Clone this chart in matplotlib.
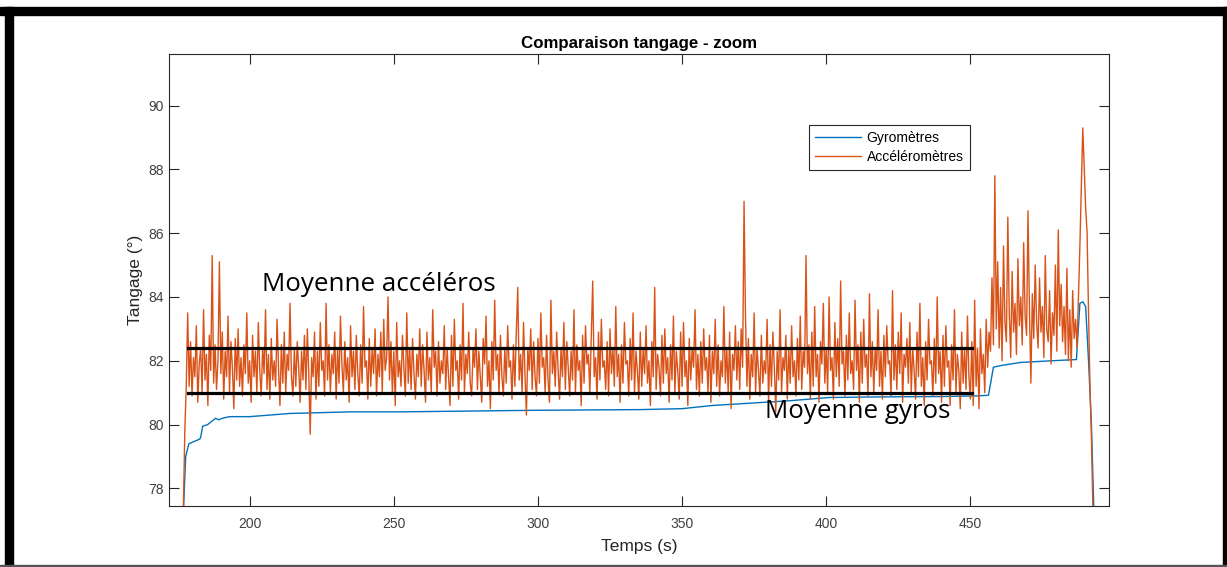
import matplotlib
matplotlib.use("Agg")
import matplotlib.pyplot as plt
from matplotlib.patches import Rectangle
import numpy as np

# gyro pitch (time s, degrees)
gyro_t = [177.1, 177.8, 178.9, 180.2, 182.7, 183.0, 183.7, 185.4, 186.8, 188.2, 189.2,
          190.6, 193.0, 200.0, 207.0, 214.0, 235.0, 252.0, 300.0, 335.0, 350.0, 360.5,
          375.0, 387.5, 401.0, 420.0, 440.0, 452.0, 456.3, 458.0, 460.5, 467.5, 478.0,
          486.8, 488.0, 489.0, 490.0, 491.0, 492.0, 492.8]
gyro_v = [77.45, 79.0, 79.4, 79.45, 79.55, 79.6, 79.95, 80.0, 80.1, 80.2, 80.15,
          80.2, 80.25, 80.25, 80.3, 80.35, 80.4, 80.4, 80.45, 80.47, 80.5, 80.6,
          80.68, 80.75, 80.85, 80.87, 80.88, 80.9, 80.92, 81.8, 81.85, 81.95, 82.0,
          82.04, 83.8, 83.85, 83.7, 82.0, 80.0, 77.45]

# accelerometer pitch, one value every 0.5 s starting at t = 177 s
ACCEL_T0 = 177.0
ACCEL_DT = 0.5
accel_v = [
    77.4, 79.8, 81.2, 83.5,
    81.2, 82.6, 80.9, 82.1, 81.5, 83.1, 80.7, 81.9, 82.4, 81.0, 83.6, 81.4, 82.2, 80.6, 82.8, 81.7, 85.3, 81.3, 82.5, 81.1,
    82.0, 85.1, 81.6, 82.9, 80.8, 82.3, 81.5, 83.4, 81.0, 82.6, 81.8, 80.5, 82.7, 81.4, 83.0, 81.2, 82.1, 80.9, 82.5, 81.6,
    83.5, 81.3, 82.0, 80.7, 82.8, 81.5, 82.3, 81.0, 83.2, 81.7, 80.9, 82.4, 81.6, 83.6, 81.1, 82.2, 80.8, 82.7, 81.4, 82.0,
    81.2, 83.3, 81.8, 80.6, 82.5, 81.3, 82.9, 81.0, 82.2, 81.7, 83.8, 81.5, 80.9, 82.4, 81.2, 82.6, 81.8, 80.7, 82.3, 81.4,
    82.8, 81.1, 83.0, 81.6, 79.7, 82.1, 81.5, 82.9, 80.8, 82.3, 81.2, 83.2, 81.7, 82.0, 80.9, 83.8, 81.4, 82.5, 81.0, 82.2,
    81.6, 82.9, 80.8, 82.4, 81.3, 83.4, 81.9, 81.0, 82.6, 81.4, 82.1, 80.7, 83.1, 81.5, 82.3, 81.1, 82.8, 81.6, 80.9, 82.5,
    81.3, 83.7, 81.8, 82.0, 80.8, 82.7, 81.2, 82.4, 81.6, 83.0, 80.9, 82.2, 81.5, 82.9, 81.0, 83.3, 81.7, 82.1, 84.0, 81.4,
    82.6, 81.0, 82.3, 80.6, 83.2, 81.5, 82.0, 81.2, 82.8, 81.8, 80.9, 83.5, 81.3, 82.4, 81.1, 82.7, 81.6, 80.8, 82.2, 81.5,
    83.0, 81.2, 82.5, 81.7, 80.7, 82.9, 81.4, 82.1, 81.0, 83.6, 81.8, 82.3, 80.9, 82.6, 81.3, 82.0, 81.6, 83.1, 81.1, 82.4,
    81.5, 80.6, 82.8, 81.2, 83.3, 81.7, 82.0, 80.8, 82.5, 81.4, 83.8, 81.0, 82.2, 81.6, 82.9, 81.3, 80.9, 82.4, 81.8, 83.0,
    81.1, 82.3, 81.5, 80.7, 82.7, 81.9, 83.4, 81.2, 82.0, 80.5, 82.6, 81.4, 83.9, 81.7, 82.2, 81.0, 82.8, 81.5, 80.9, 82.4,
    81.3, 83.1, 81.8, 82.0, 80.8, 82.5, 81.2, 82.9, 84.3, 81.4, 82.2, 81.0, 83.2, 81.6, 80.3, 82.4, 81.7, 83.0, 81.1, 82.6,
    81.5, 80.9, 82.7, 81.3, 83.5, 81.8, 82.1, 81.0, 82.8, 81.4, 80.7, 83.9, 81.6, 82.3, 81.2, 82.9, 81.7, 80.8, 82.4, 81.5,
    83.2, 81.1, 82.6, 81.8, 80.9, 82.3, 81.4, 83.6, 81.0, 82.5, 81.7, 82.0, 80.6, 82.8, 81.3, 83.1, 81.9, 82.2, 81.0, 82.7,
    84.5, 81.5, 82.1, 80.8, 82.9, 81.4, 83.3, 81.8, 82.0, 81.1, 82.6, 80.9, 83.0, 81.6, 82.4, 81.2, 83.7, 81.5, 82.2, 80.7,
    82.5, 81.3, 83.2, 81.9, 82.0, 80.9, 82.7, 81.4, 83.5, 81.0, 82.3, 81.7, 80.8, 82.9, 81.2, 82.4, 81.6, 83.1, 81.3, 82.0,
    80.6, 82.6, 81.5, 84.3, 81.1, 82.2, 81.8, 80.9, 82.8, 81.3, 83.0, 81.6, 82.1, 80.7, 82.5, 81.4, 83.4, 81.0, 82.3, 81.7,
    80.8, 82.9, 81.2, 83.2, 81.5, 82.0, 80.6, 82.7, 81.4, 82.4, 81.8, 83.6, 81.1, 82.2, 80.9, 82.6, 81.3, 83.0, 81.7, 82.1,
    81.0, 82.8, 80.7, 82.3, 81.6, 83.3, 81.2, 82.5, 80.9, 82.0, 81.5, 83.7, 81.3, 82.4, 81.0, 82.9, 80.5, 82.2, 81.7, 83.1,
    81.4, 82.6, 81.1, 83.0, 81.8, 87.0, 83.4, 81.2, 82.7, 80.8, 82.2, 81.5, 83.5, 81.0, 82.4, 81.7, 80.9, 82.8, 81.3, 82.0,
    81.6, 83.3, 80.7, 82.5, 81.2, 82.9, 81.8, 80.4, 82.3, 81.4, 83.6, 81.0, 82.1, 81.7, 82.8, 80.8, 82.4, 81.3, 83.1, 81.5,
    82.0, 80.9, 82.7, 81.4, 83.4, 81.1, 82.3, 81.8, 85.3, 81.6, 82.5, 80.8, 82.9, 81.2, 83.7, 81.5, 82.2, 80.7, 82.6, 81.9,
    83.8, 81.3, 82.4, 81.0, 84.0, 81.7, 82.1, 80.8, 83.2, 81.5, 82.7, 81.2, 84.5, 81.9, 82.3, 80.9, 82.8, 81.4, 83.5, 81.6,
    82.0, 81.1, 83.9, 81.7, 82.5, 80.7, 82.9, 81.3, 83.3, 81.8, 82.2, 80.9, 84.1, 81.5, 82.6, 81.0, 82.4, 81.7, 83.6, 81.2,
    82.3, 80.8, 82.8, 81.5, 83.1, 81.9, 82.0, 80.9, 84.2, 81.4, 82.5, 81.1, 82.9, 81.6, 83.5, 80.7, 82.2, 81.8, 82.7, 81.3,
    83.2, 81.0, 82.4, 81.7, 80.8, 82.9, 81.5, 83.8, 81.2, 82.1, 80.6, 82.6, 81.4, 83.3, 81.9, 82.0, 80.9, 82.7, 81.3, 84.0,
    81.6, 82.3, 80.7, 82.8, 81.2, 83.1, 81.8, 82.0, 80.6, 82.5, 81.4, 83.6, 81.0, 82.2, 81.7, 80.5, 82.9, 81.3, 82.4, 81.1,
    83.4, 81.5, 80.8, 82.6, 80.6, 83.9, 81.2, 82.4, 80.5, 83.0, 81.6, 82.2, 81.0, 83.3, 81.8, 82.9, 82.3, 84.6, 82.5, 87.8,
    83.0, 85.1, 82.4, 84.3, 82.0, 85.6, 83.2, 82.6, 86.5, 83.5, 82.1, 84.8, 82.9, 83.8, 82.2, 85.2, 83.1, 84.0, 82.5, 85.7,
    83.4, 82.8, 86.7, 83.6, 81.3, 84.1, 82.7, 85.0, 83.2, 82.4, 84.6, 82.9, 83.7, 82.1, 85.3, 83.0, 82.6, 84.2, 81.9, 83.5,
    82.8, 85.0, 82.3, 86.1, 83.1, 84.4, 82.6, 83.7, 82.2, 84.9, 82.0, 83.6, 81.8, 84.2, 82.7, 83.3, 82.4, 84.0, 85.6, 87.5,
    89.3, 88.0, 86.8, 86.0, 83.5, 81.2, 79.6, 77.4, 77.0,
]

# hand-drawn mean lines
mean_start, mean_end = 178.5, 450.7
mean_accel = 82.4
mean_gyro = 81.0

accel_t = ACCEL_T0 + ACCEL_DT * np.arange(len(accel_v))

plt.rcParams["font.family"] = ["Liberation Sans", "DejaVu Sans"]

fig = plt.figure(figsize=(12.27, 5.67), dpi=100)
ax = fig.add_axes([0.1377, 0.1076, 0.7659, 0.7963])

ax.plot(gyro_t, gyro_v, color="#0072BD", lw=1.0, label="Gyromètres")
ax.plot(accel_t, accel_v, color="#D95319", lw=1.0, label="Accéléromètres")

ax.plot([mean_start, mean_end], [mean_accel, mean_accel], color="black", lw=2.3)
ax.plot([mean_start, mean_end], [mean_gyro, mean_gyro], color="black", lw=2.3)
ax.text(204.2, 84.4, "Moyenne accéléros", fontsize=18.6, family=["Open Sans", "DejaVu Sans"],
        va="center", ha="left")
ax.text(378.6, 80.4, "Moyenne gyros", fontsize=18.6, family=["Open Sans", "DejaVu Sans"],
        va="center", ha="left")

ax.set_xlim(172, 498)
ax.set_ylim(77.45, 91.6)
ax.set_xticks(np.arange(200, 451, 50))
ax.set_yticks(np.arange(78, 91, 2))

axis_color = "#262626"
for s in ax.spines.values():
    s.set_color(axis_color)
    s.set_linewidth(0.8)
ax.tick_params(direction="in", length=7, width=0.8, color=axis_color,
               labelcolor="#404040", labelsize=10, top=True, right=True)
ax.tick_params(axis="x", pad=8)

ax.set_title("Comparaison tangage - zoom", fontsize=12.2, fontweight="bold",
             color="black", pad=5)
ax.set_xlabel("Temps (s)", fontsize=12.5, color="#262626", labelpad=6)
ax.set_ylabel("Tangage (°)", fontsize=12.5, color="#262626", labelpad=4)

leg = ax.legend(loc="upper left", bbox_to_anchor=(0.681, 0.844), fontsize=10,
                handlelength=3.3, fancybox=False, framealpha=1,
                borderaxespad=0, borderpad=0.45, labelspacing=0.35, handletextpad=0.4)
leg.get_frame().set_edgecolor("#262626")
leg.get_frame().set_linewidth(0.8)

# black screenshot frame
W, H = 1227, 567
fig.add_artist(Rectangle((0, (H - 15) / H), 1, 8 / H, transform=fig.transFigure, color="black"))
fig.add_artist(Rectangle((4.5 / W, 0), 8.5 / W, (H - 7) / H, transform=fig.transFigure, color="black"))
fig.add_artist(Rectangle((1222.5 / W, 0), 4.5 / W, (H - 7) / H, transform=fig.transFigure, color="black"))
fig.add_artist(Rectangle((0, 0), 1, 2 / H, transform=fig.transFigure, color="#555555"))

fig.savefig("out.png", dpi=100)
